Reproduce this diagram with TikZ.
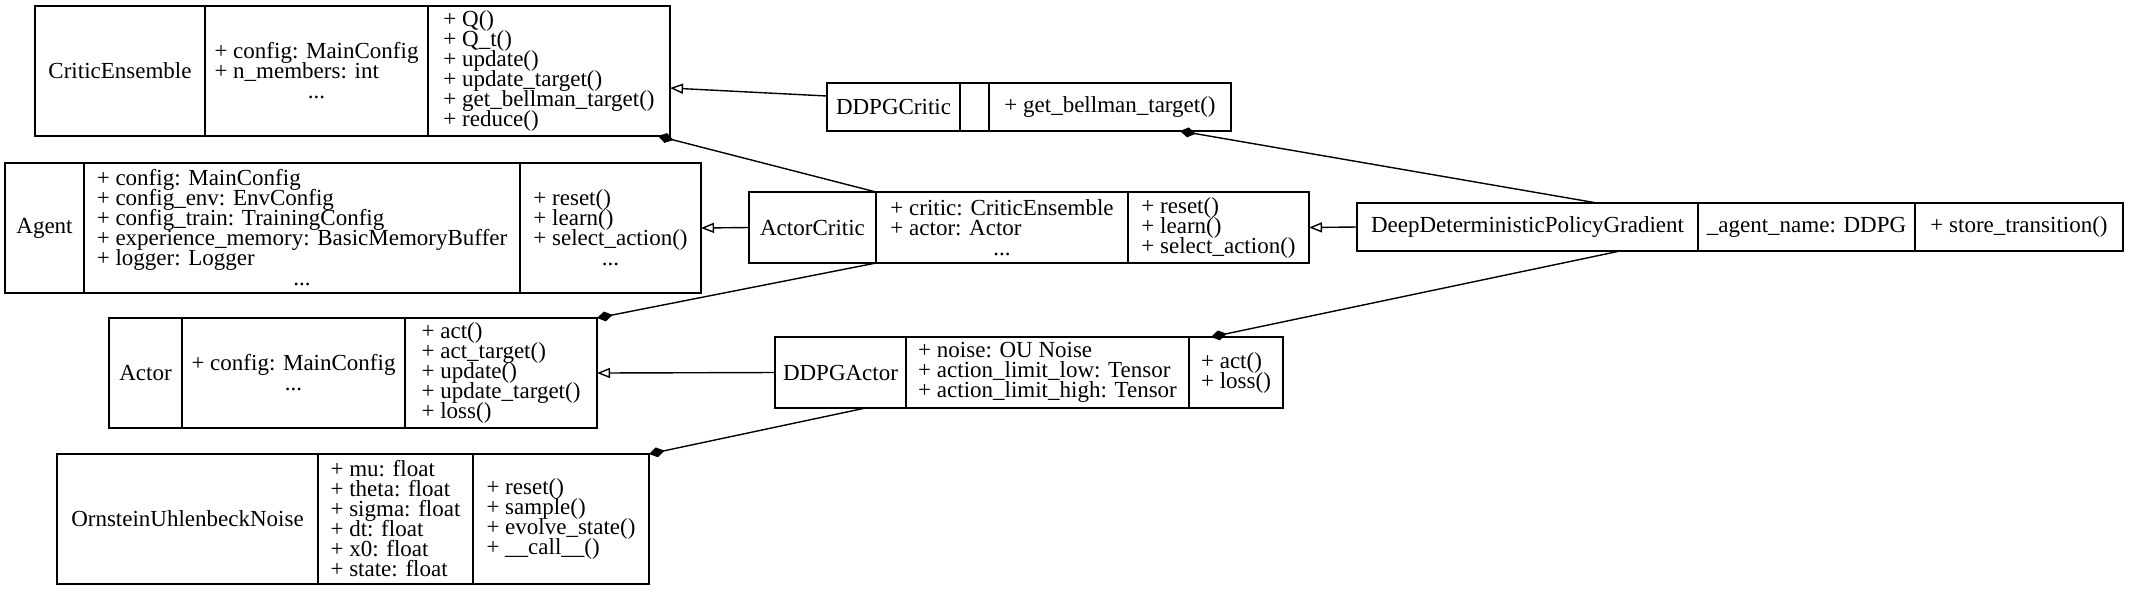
\documentclass[tikz,border=0pt]{standalone}
\usepackage{fontspec}
\setmainfont{Liberation Serif}
\usetikzlibrary{arrows.meta}

\tikzset{
    cell/.style={draw, rectangle, inner sep=0pt, outer sep=0pt, line width=0.6pt, anchor=west,
        font=\fontsize{11.5}{10}\selectfont},
    boldcell/.style={cell, line width=1.4pt},
    inherit/.style={line width=0.7pt, -{Triangle[open, length=6.5pt, width=5pt]}},
    compose/.style={line width=0.7pt, -{Diamond[length=8pt, width=5pt]}}
}
% left-aligned lines with a fixed pitch, "..." centred
\newcommand{\members}[1]{\vbox{\lineskiplimit=-\maxdimen \let\\\cr
    \halign{##\hfil\cr #1\crcr}}}
\newcommand{\more}{\hfill...\hfill}

\begin{document}
\begin{tikzpicture}[x=0.5pt, y=-0.5pt]
    \useasboundingbox (0,0) rectangle (2129,591);
    % critic ensemble
    \node[boldcell, minimum width=85pt, minimum height=65pt] (cename) at (35,71) {CriticEnsemble};
    \node[boldcell, minimum width=111.5pt, minimum height=65pt] (ceattr) at (cename.east) {\members{+ config: MainConfig\\+ n\_members: int\\\more}};
    \node[boldcell, minimum width=121pt, minimum height=65pt] (cemeth) at (ceattr.east) {\members{+ Q()\\+ Q\_t()\\+ update()\\+ update\_target()\\+ get\_bellman\_target()\\+ reduce()}};
    % agent
    \node[boldcell, minimum width=39.5pt, minimum height=65pt] (agname) at (5,228) {Agent};
    \node[boldcell, minimum width=218pt, minimum height=65pt] (agattr) at (agname.east) {\members{+ config: MainConfig\\+ config\_env: EnvConfig\\+ config\_train: TrainingConfig\\+ experience\_memory: BasicMemoryBuffer\\+ logger: Logger\\\more}};
    \node[boldcell, minimum width=90.5pt, minimum height=65pt] (agmeth) at (agattr.east) {\members{+ reset()\\+ learn()\\+ select\_action()\\\more}};
    % actor
    \node[boldcell, minimum width=36.5pt, minimum height=55pt] (actname) at (109,373) {Actor};
    \node[boldcell, minimum width=111.5pt, minimum height=55pt] (actattr) at (actname.east) {\members{+ config: MainConfig\\\more}};
    \node[boldcell, minimum width=96pt, minimum height=55pt] (actmeth) at (actattr.east) {\members{+ act()\\+ act\_target()\\+ update()\\+ update\_target()\\+ loss()}};
    % noise
    \node[cell, minimum width=130.5pt, minimum height=65pt] (ouname) at (57,519) {OrnsteinUhlenbeckNoise};
    \node[cell, minimum width=77.5pt, minimum height=65pt] (ouattr) at (ouname.east) {\members{+ mu: float\\+ theta: float\\+ sigma: float\\+ dt: float\\+ x0: float\\+ state: float}};
    \node[cell, minimum width=88pt, minimum height=65pt] (oumeth) at (ouattr.east) {\members{+ reset()\\+ sample()\\+ evolve\_state()\\+ \_\_call\_\_()}};
    % ddpg critic
    \node[cell, minimum width=66.5pt, minimum height=24pt] (dcname) at (827,107) {DDPGCritic};
    \node[cell, minimum width=14.5pt, minimum height=24pt] (dcattr) at (dcname.east) {};
    \node[cell, minimum width=121pt, minimum height=24pt] (dcmeth) at (dcattr.east) {+ get\_bellman\_target()};
    % actor critic
    \node[boldcell, minimum width=63.5pt, minimum height=35.5pt] (acname) at (749,227.5) {ActorCritic};
    \node[boldcell, minimum width=126pt, minimum height=35.5pt] (acattr) at (acname.east) {\members{+ critic: CriticEnsemble\\+ actor: Actor\\\more}};
    \node[boldcell, minimum width=90.5pt, minimum height=35.5pt] (acmeth) at (acattr.east) {\members{+ reset()\\+ learn()\\+ select\_action()}};
    % ddpg actor
    \node[cell, minimum width=65.5pt, minimum height=35.5pt] (daname) at (775,372.5) {DDPGActor};
    \node[cell, minimum width=141.5pt, minimum height=35.5pt] (daattr) at (daname.east) {\members{+ noise: OU Noise\\+ action\_limit\_low: Tensor\\+ action\_limit\_high: Tensor}};
    \node[cell, minimum width=47pt, minimum height=35.5pt] (dameth) at (daattr.east) {\members{+ act()\\+ loss()}};
    % ddpg
    \node[cell, minimum width=170.5pt, minimum height=24pt] (ddname) at (1357,227) {DeepDeterministicPolicyGradient};
    \node[cell, minimum width=108.5pt, minimum height=24pt] (ddattr) at (ddname.east) {\_agent\_name: DDPG};
    \node[cell, minimum width=104pt, minimum height=24pt] (ddmeth) at (ddattr.east) {+ store\_transition()};
    % relations
    \path ([yshift=5.5pt]dcname.west) edge[inherit] ([yshift=-8.5pt]cemeth.east);
    \path (acattr.north west) edge[compose] ([xshift=-6pt]cemeth.south east);
    \path (acname.west) edge[inherit] (agmeth.east);
    \path (acattr.south west) edge[compose] (actmeth.north east);
    \path (daname.west) edge[inherit] (actmeth.east);
    \path ([xshift=12.5pt]daname.south) edge[compose] (oumeth.north east);
    \path ([xshift=34.75pt]ddname.north) edge[compose] ([xshift=35pt]dcmeth.south);
    \path (ddname.west) edge[inherit] (acmeth.east);
    \path ([xshift=46.25pt]ddname.south) edge[compose] ([xshift=-12.5pt]dameth.north);
\end{tikzpicture}
\end{document}
